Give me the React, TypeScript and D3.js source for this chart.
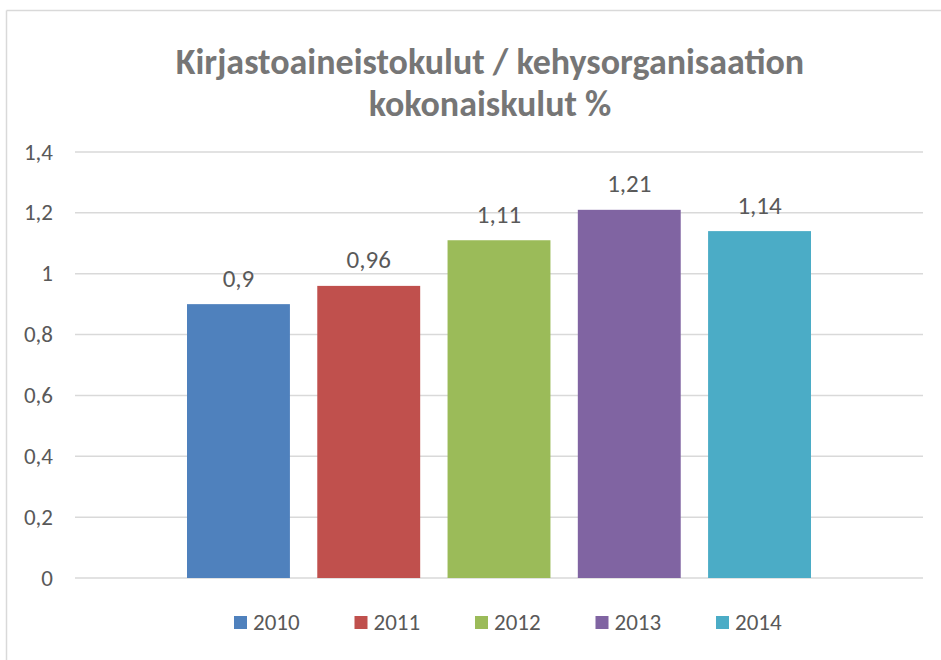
import React from "react";
import * as d3 from "d3";

const years = ["2010", "2011", "2012", "2013", "2014"];
const values = [0.9, 0.96, 1.11, 1.21, 1.14];
const colors = ["#4F81BD", "#C0504D", "#9BBB59", "#8064A2", "#4BACC6"];
const yTicks = [0, 0.2, 0.4, 0.6, 0.8, 1, 1.2, 1.4];
const titleLines = ["Kirjastoaineistokulut / kehysorganisaation", "kokonaiskulut %"];
const categories = [""];

const W = 941;
const H = 660;
const FONT = "Carlito, Calibri, Lato, 'Open Sans', 'Liberation Sans', sans-serif";

const fmt = (v: number) => String(v).replace(".", ",");

export default function App() {
  const plotLeft = 75;
  const plotRight = 923;
  const plotTop = 152;
  const plotBottom = 578;

  const y = d3.scaleLinear().domain([0, 1.4]).range([plotBottom, plotTop]);
  const x0 = d3.scaleBand().domain(categories).range([plotLeft, plotRight]).paddingOuter(0.1795).paddingInner(0);
  const x1 = d3
    .scaleBand()
    .domain(years)
    .range([x0("")!, x0("")! + x0.bandwidth()])
    .paddingInner(0.21)
    .paddingOuter(0);

  const legendStart = 234;
  const legendStep = 120.5;

  return (
    <svg
      width={W}
      height={H}
      style={{ position: "absolute", left: 0, top: 0, display: "block" }}
      fontFamily={FONT}
    >
      <rect x={0} y={0} width={W} height={H} fill="#fff" />
      <line x1={6.5} y1={10.5} x2={W} y2={10.5} stroke="#D9D9D9" strokeWidth={1.5} />
      <line x1={6.5} y1={10.5} x2={6.5} y2={H} stroke="#D9D9D9" strokeWidth={1.5} />

      {titleLines.map((t, i) => (
        <text
          key={i}
          x={490}
          y={73.5 + i * 42.5}
          textAnchor="middle"
          fontSize={36}
          fontWeight="bold"
          fill="#767676"
        >
          {t}
        </text>
      ))}

      {yTicks.map((t) => (
        <g key={t}>
          <line
            x1={plotLeft}
            x2={plotRight}
            y1={y(t)}
            y2={y(t)}
            stroke="#D9D9D9"
            strokeWidth={1.5}
          />
          <text x={53} y={y(t) + 7.5} textAnchor="end" fontSize={23} fill="#595959">
            {fmt(t)}
          </text>
        </g>
      ))}

      {years.map((yr, i) => (
        <g key={yr}>
          <rect
            x={x1(yr)}
            y={y(values[i])}
            width={x1.bandwidth()}
            height={y(0) - y(values[i])}
            fill={colors[i]}
          />
          <text
            x={x1(yr)! + x1.bandwidth() / 2}
            y={y(values[i]) - 17.5}
            textAnchor="middle"
            fontSize={25}
            fill="#595959"
          >
            {fmt(values[i])}
          </text>
        </g>
      ))}

      {years.map((yr, i) => (
        <g key={"l" + yr} transform={`translate(${legendStart + i * legendStep},0)`}>
          <rect x={0} y={616} width={13} height={13} fill={colors[i]} />
          <text x={19} y={629.5} fontSize={23} fill="#595959">
            {yr}
          </text>
        </g>
      ))}
    </svg>
  );
}
